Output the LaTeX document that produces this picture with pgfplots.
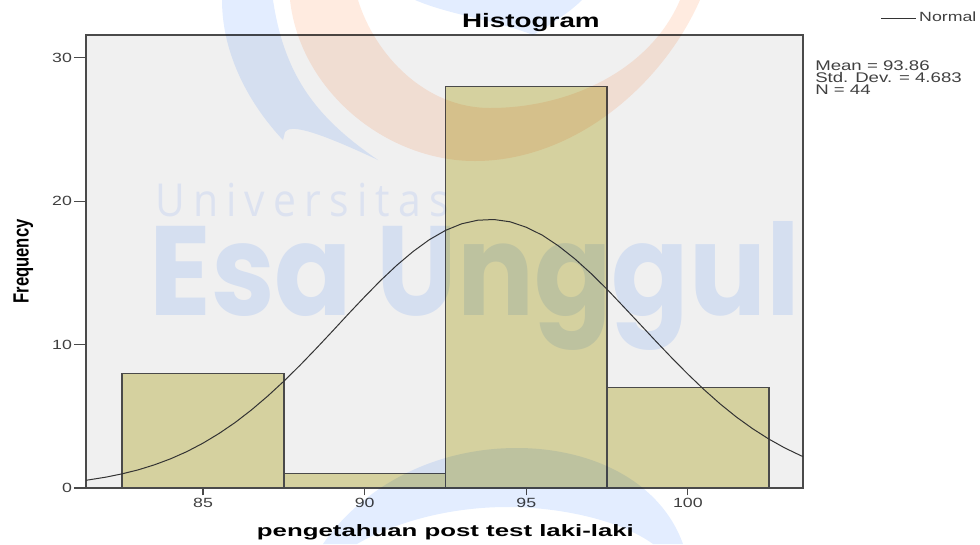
\documentclass[border=0pt]{standalone}
\usepackage{graphicx}
\usepackage{fontspec}
\usepackage{pgfplots}
\pgfplotsset{compat=1.18}
\setmainfont{Liberation Sans}
\newfontfamily\ticks[FakeStretch=1.33]{Liberation Sans}
\newfontfamily\titlef[FakeStretch=1.43]{Liberation Sans}
\newfontfamily\xlab[FakeStretch=1.56]{Liberation Sans}
\newfontfamily\ylab[FakeStretch=0.755]{Liberation Sans}
\newfontfamily\wmark{Open Sans}
\newfontfamily\wmarkb{Poppins}
\definecolor{barfill}{HTML}{D5D19F}
\definecolor{plotbg}{HTML}{F0F0F0}
\definecolor{axcol}{HTML}{4A4A4A}
\definecolor{wblue}{HTML}{E3EDFF}
\definecolor{wpeach}{HTML}{FFEBE0}
\tikzset{px/.style={x=0.75pt,y=-0.75pt}}

\begin{document}
\begin{tikzpicture}
\useasboundingbox[px] (0,0) rectangle (980,544);
\begin{axis}[
    at={(64.5pt,-366pt)},
    anchor=south west,
    scale only axis,
    width=537.75pt,
    height=339.75pt,
    xmin=81.38, xmax=103.56,
    ymin=0, ymax=31.6,
    xtick={85,90,95,100},
    ytick={0,10,20,30},
    tick align=outside,
    major tick length=5.5pt,
    tick style={axcol, line width=0.8pt},
    xtick pos=lower,
    ytick pos=left,
    axis line style={axcol, line width=1pt},
    axis background/.style={fill=plotbg},
    tick label style={font=\ticks\fontsize{10}{12}\selectfont, text=black!75},
    xticklabel style={yshift=1.5pt},
    yticklabel style={xshift=-1.5pt},
    /pgf/number format/assume math mode=true,
    title={\titlef\fontsize{14.6}{16}\selectfont\bfseries Histogram},
    title style={at={(0.6205,1)}, anchor=base, yshift=0pt},
    xlabel={\xlab\fontsize{12.4}{14}\selectfont\bfseries pengetahuan post test laki-laki},
    xlabel style={at={(0.5,0)}, anchor=base, xshift=0.7pt, yshift=-36pt},
    ylabel={\ylab\fontsize{16.5}{18}\selectfont\bfseries Frequency},
    ylabel style={at={(0,0.5)}, anchor=base, rotate=0, yshift=43pt},
    legend style={
        at={(1.2455,1.056)}, anchor=north east,
        draw=none, fill=none, inner sep=0pt, outer sep=0pt,
        font=\ticks\fontsize{10}{12}\selectfont,
        text=black!75,
    },
    legend image code/.code={\draw[#1] (0pt,0pt) -- (26pt,0pt);},
]
\addplot[ybar interval, fill=barfill, draw=axcol, line width=1.2pt, forget plot] coordinates {
    (82.5,8) (87.5,1) (92.5,28) (97.5,7) (102.5,7)
};
\addplot[color=black!80, line width=0.75pt] coordinates {
    (81.38,0.54) (81.5,0.58) (82,0.76) (82.5,0.99) (83,1.27) (83.5,1.62) (84,2.04)
    (84.5,2.54) (85,3.13) (85.5,3.81) (86,4.58) (86.5,5.45) (87,6.41) (87.5,7.45)
    (88,8.56) (88.5,9.73) (89,10.93) (89.5,12.15) (90,13.34) (90.5,14.49) (91,15.55)
    (91.5,16.50) (92,17.32) (92.5,17.97) (93,18.43) (93.5,18.68) (94,18.73)
    (94.5,18.57) (95,18.19) (95.5,17.63) (96,16.88) (96.5,15.99) (97,14.97)
    (97.5,13.86) (98,12.67) (98.5,11.47) (99,10.26) (99.5,9.08) (100,7.94)
    (100.5,6.86) (101,5.86) (101.5,4.95) (102,4.14) (102.5,3.42) (103,2.79)
    (103.5,2.25) (103.56,2.19)
};
\legend{Normal}
\end{axis}
% y ticks are longer than the x ticks in the original
\begin{axis}[
    at={(64.5pt,-366pt)},
    anchor=south west,
    scale only axis,
    width=537.75pt,
    height=339.75pt,
    xmin=81.38, xmax=103.56,
    ymin=0, ymax=31.6,
    xtick=\empty,
    ytick={0,10,20,30},
    yticklabels={},
    ytick pos=left,
    tick align=outside,
    major tick length=9pt,
    tick style={axcol, line width=0.8pt},
    axis line style={draw=none},
]
\end{axis}

% stats box
\begin{scope}[px, every node/.style={anchor=base west, inner sep=0pt, text=black!75,
        font=\ticks\fontsize{10.5}{12}\selectfont}]
\node at (815,70) {Mean = 93.86};
\node at (815,82) {Std. Dev. = 4.683};
\node at (815,94) {N = 44};
\end{scope}

% watermark over everything
\begin{scope}[px, blend mode=multiply]
\clip (0,0) rectangle (980,544);
\fill[wblue] (222,0) .. controls (222,55) and (250,105) .. (283,140) -- (285,132)
    .. controls (290,125) and (310,128) .. (378,160)
    .. controls (320,120) and (285,80) .. (273,0) -- cycle;
\fill[wblue] (415,0) .. controls (450,15) and (495,20) .. (533,35)
    .. controls (550,25) and (570,12) .. (582,0) -- cycle;
\fill[wpeach] (290,0) .. controls (300,90) and (385,161) .. (475,161)
    .. controls (570,161) and (660,90) .. (700,0) -- (680,0)
    .. controls (650,70) and (570,108) .. (490,108)
    .. controls (425,108) and (375,55) .. (358,0) -- cycle;
\fill[wblue] (323,544) .. controls (360,490) and (430,448) .. (517,448)
    .. controls (590,448) and (660,480) .. (683,544) -- (653,544)
    .. controls (620,520) and (560,507) .. (507,507)
    .. controls (450,507) and (395,522) .. (357,544) -- cycle;
\node[anchor=base west, inner sep=0pt, text=wblue!75] at (155,216)
    {\resizebox{220pt}{25pt}{\wmark\fontsize{40}{40}\selectfont\addfontfeatures{LetterSpace=20}Universitas}};
\node[anchor=base west, inner sep=0pt, text=wblue] at (149,315)
    {\resizebox{488pt}{70.5pt}{\wmarkb\bfseries\fontsize{94}{94}\selectfont Esa Unggul}};
\end{scope}
\end{tikzpicture}
\end{document}
